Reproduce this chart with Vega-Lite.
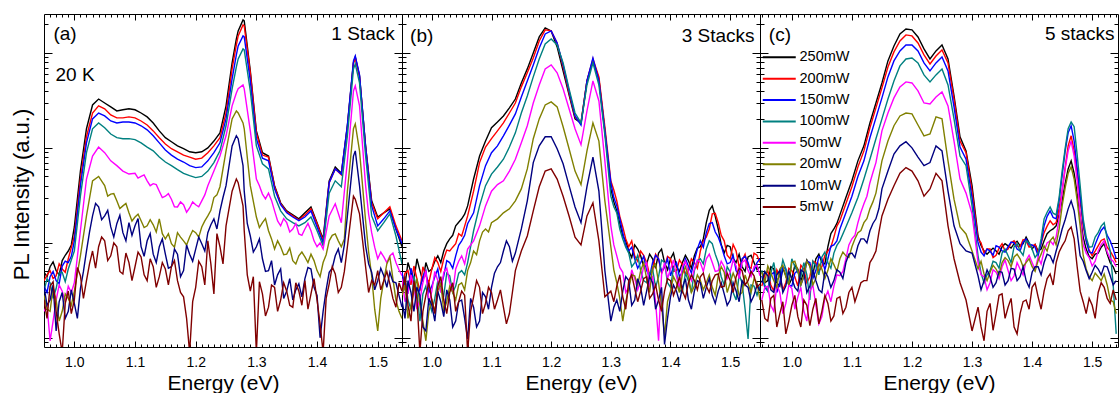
{
"$schema": "https://vega.github.io/schema/vega-lite/v6.json",
"padding": {"left": 10, "top": 13, "right": 0, "bottom": 0},
"background": "white",
"bounds": "flush",
"spacing": 0,
"config": {"font": "Liberation Sans", "view": {"stroke": null},
 "axis": {"grid": false, "domainColor": "#000", "domainWidth": 1, "tickColor": "#000", "tickWidth": 1, "labelColor": "#000", "labelFontSize": 14, "titleColor": "#000", "titleFontSize": 21, "titleFontWeight": "normal", "labelFont": "Liberation Sans", "titleFont": "Liberation Sans"},
 "legend": {"labelFont": "Liberation Sans", "labelColor": "#000"},
 "text": {"font": "Liberation Sans", "color": "#000"}},
"datasets": {"d": [
{"p":"a","e":0.95,"250":4.9,"200":4.0,"150":3.5,"100":3.1,"50":1.9,"20":2.8,"10":3.5,"5":2.5},
{"p":"a","e":0.96,"250":5.6,"200":5.1,"150":4.4,"100":3.8,"50":0.93,"20":1.9,"10":2.5,"5":3.5},
{"p":"a","e":0.97,"250":5.1,"200":4.5,"150":4.0,"100":3.3,"50":2.5,"20":2.5,"10":1.18,"5":1.9},
{"p":"a","e":0.98,"250":6.5,"200":5.3,"150":5.7,"100":4.9,"50":3.1,"20":1.9,"10":3.0,"5":0.7},
{"p":"a","e":0.99,"250":8.2,"200":6.8,"150":6.2,"100":5.3,"50":3.5,"20":2.6,"10":1.9,"5":3.1},
{"p":"a","e":1.00,"250":14.7,"200":11.8,"150":10.5,"100":8.2,"50":3.8,"20":3.1,"10":2.3,"5":2.5},
{"p":"a","e":1.01,"250":57,"200":47,"150":40,"100":31,"50":13.4,"20":7.3,"10":3.3,"5":4.5},
{"p":"a","e":1.02,"250":159,"200":131,"150":113,"100":89,"50":47,"20":19.2,"10":8.2,"5":4.0},
{"p":"a","e":1.03,"250":283,"200":233,"150":202,"100":159,"50":82,"20":45,"10":19.2,"5":8.2},
{"p":"a","e":1.04,"250":327,"200":277,"150":233,"100":183,"50":102,"20":50,"10":23.9,"5":9.1},
{"p":"a","e":1.05,"250":297,"200":258,"150":217,"100":163,"50":89,"20":40,"10":19.2,"5":10.5},
{"p":"a","e":1.06,"250":270,"200":222,"150":192,"100":140,"50":73,"20":32.6,"10":14.7,"5":7.3},
{"p":"a","e":1.07,"250":245,"200":207,"150":183,"100":128,"50":65,"20":27.7,"10":15.9,"5":9.1},
{"p":"a","e":1.08,"250":252,"200":207,"150":187,"100":125,"50":57,"20":24.5,"10":12.8,"5":4.7},
{"p":"a","e":1.09,"250":258,"200":212,"150":187,"100":125,"50":53,"20":20.7,"10":16.3,"5":6.2},
{"p":"a","e":1.10,"250":252,"200":207,"150":183,"100":122,"50":54,"20":18.7,"10":15.1,"5":5.6},
{"p":"a","e":1.11,"250":233,"200":192,"150":171,"100":113,"50":50,"20":17.1,"10":9.1,"5":7.1},
{"p":"a","e":1.12,"250":212,"200":174,"150":155,"100":102,"50":45,"20":15.1,"10":10.5,"5":4.0},
{"p":"a","e":1.13,"250":183,"200":151,"150":134,"100":93,"50":42,"20":15.5,"10":7.6,"5":5.6},
{"p":"a","e":1.14,"250":151,"200":128,"150":113,"100":80,"50":35,"20":17.9,"10":9.1,"5":4.4},
{"p":"a","e":1.15,"250":128,"200":110,"150":95,"100":71,"50":31,"20":11.0,"10":7.6,"5":5.3},
{"p":"a","e":1.16,"250":116,"200":98,"150":84,"100":65,"50":28.8,"20":9.8,"10":5.6,"5":5.6},
{"p":"a","e":1.17,"250":105,"200":91,"150":76,"100":59,"50":23.9,"20":12.8,"10":7.6,"5":4.0},
{"p":"a","e":1.18,"250":98,"200":84,"150":71,"100":54,"50":25.2,"20":10.5,"10":5.1,"5":2.7},
{"p":"a","e":1.19,"250":91,"200":80,"150":65,"100":51,"50":23.3,"20":11.5,"10":7.6,"5":0.7},
{"p":"a","e":1.20,"250":89,"200":76,"150":62,"100":48.6,"50":25.2,"20":12.8,"10":8.6,"5":3.4},
{"p":"a","e":1.21,"250":91,"200":78,"150":63,"100":50,"50":27.7,"20":14.7,"10":9.8,"5":5.6},
{"p":"a","e":1.22,"250":100,"200":89,"150":73,"100":57,"50":40,"20":19.2,"10":12.8,"5":10.5},
{"p":"a","e":1.23,"250":118,"200":105,"150":89,"100":70,"50":57,"20":30,"10":17.9,"5":2.9},
{"p":"a","e":1.24,"250":144,"200":128,"150":113,"100":93,"50":82,"20":39,"10":21.7,"5":9.1},
{"p":"a","e":1.25,"250":277,"200":233,"150":202,"100":171,"50":134,"20":93,"10":40,"5":15.1},
{"p":"a","e":1.26,"250":785,"200":679,"150":533,"100":419,"50":277,"20":202,"10":105,"5":35},
{"p":"a","e":1.267,"250":1404,"200":1214,"150":953,"100":712,"50":379,"20":245,"10":134,"5":47},
{"p":"a","e":1.27,"250":1706,"200":1510,"150":1185,"100":864,"50":419,"20":233,"10":125,"5":43},
{"p":"a","e":1.278,"250":2226,"200":1970,"150":1510,"100":1102,"50":460,"20":183,"10":65,"5":24.5},
{"p":"a","e":1.28,"250":2173,"200":1923,"150":1474,"100":1076,"50":419,"20":159,"10":35,"5":13.4},
{"p":"a","e":1.29,"250":647,"200":617,"150":507,"100":398,"50":151,"20":40,"10":11.8,"5":3.1},
{"p":"a","e":1.30,"250":151,"200":144,"150":125,"100":105,"50":47,"20":18.7,"10":9.1,"5":0.7},
{"p":"a","e":1.31,"250":89,"200":84,"150":78,"100":68,"50":32.6,"20":16.3,"10":6.8,"5":2.9},
{"p":"a","e":1.32,"250":82,"200":80,"150":73,"100":60,"50":33.4,"20":13.4,"10":5.1,"5":2.1},
{"p":"a","e":1.33,"250":40,"200":39,"150":37,"100":31,"50":21.7,"20":8.6,"10":3.6,"5":3.4},
{"p":"a","e":1.34,"250":26.4,"200":25.8,"150":25.2,"100":21.7,"50":15.1,"20":9.1,"10":5.3,"5":2.5},
{"p":"a","e":1.35,"250":21.7,"200":21.2,"150":20.7,"100":17.9,"50":16.3,"20":7.6,"10":3.1,"5":3.1},
{"p":"a","e":1.36,"250":19.7,"200":19.2,"150":18.7,"100":16.3,"50":14.0,"20":6.5,"10":2.5,"5":2.1},
{"p":"a","e":1.37,"250":17.9,"200":17.4,"150":17.1,"100":15.1,"50":12.4,"20":7.3,"10":3.7,"5":3.1},
{"p":"a","e":1.38,"250":20.7,"200":19.7,"150":18.7,"100":16.3,"50":14.0,"20":7.1,"10":4.2,"5":4.0},
{"p":"a","e":1.39,"250":23.9,"200":22.8,"150":21.7,"100":18.7,"50":13.4,"20":7.6,"10":5.3,"5":2.9},
{"p":"a","e":1.40,"250":16.3,"200":15.9,"150":14.7,"100":13.4,"50":9.1,"20":5.1,"10":2.8,"5":2.5},
{"p":"a","e":1.41,"250":11.0,"200":10.5,"150":10.0,"100":9.3,"50":8.6,"20":6.2,"10":1.9,"5":0.7},
{"p":"a","e":1.42,"250":45,"200":43,"150":43,"100":33.4,"50":19.2,"20":10.5,"10":4.9,"5":3.7},
{"p":"a","e":1.43,"250":63,"200":60,"150":60,"100":45,"50":25.8,"20":12.4,"10":7.3,"5":4.7},
{"p":"a","e":1.44,"250":54,"200":52,"150":53,"100":39,"50":16.3,"20":9.1,"10":6.2,"5":3.4},
{"p":"a","e":1.45,"250":171,"200":167,"150":174,"100":134,"50":73,"20":35,"10":19.2,"5":9.1},
{"p":"a","e":1.46,"250":785,"200":785,"150":824,"100":679,"50":398,"20":159,"10":82,"5":31},
{"p":"a","e":1.463,"250":907,"200":885,"150":929,"100":765,"50":450,"20":179,"10":93,"5":28.8},
{"p":"a","e":1.47,"250":573,"200":559,"150":587,"100":483,"50":277,"20":93,"10":40,"5":20.2},
{"p":"a","e":1.48,"250":105,"200":102,"150":102,"100":82,"50":40,"20":17.1,"10":9.3,"5":5.6},
{"p":"a","e":1.49,"250":27.7,"200":26.4,"150":24.5,"100":19.2,"50":12.8,"20":4.5,"10":4.9,"5":4.0},
{"p":"a","e":1.50,"250":18.7,"200":17.9,"150":15.1,"100":13.4,"50":6.8,"20":1.18,"10":4.0,"5":5.1},
{"p":"a","e":1.51,"250":20.7,"200":20.7,"150":17.9,"100":16.3,"50":7.1,"20":4.0,"10":4.5,"5":4.0},
{"p":"a","e":1.52,"250":22.8,"200":23.9,"150":21.7,"100":20.2,"50":7.3,"20":7.1,"10":4.9,"5":3.7},
{"p":"a","e":1.53,"250":14.0,"200":15.1,"150":14.0,"100":11.8,"50":6.2,"20":2.5,"10":3.8,"5":2.1},
{"p":"a","e":1.54,"250":9.1,"200":10.5,"150":9.8,"100":6.0,"50":4.5,"20":1.6,"10":2.1,"5":3.1},
{"p":"a","e":0.955,"250":4.4,"200":4.6,"150":3.0,"100":4.2,"50":2.2,"20":2.0,"10":2.2,"5":1.6},
{"p":"a","e":0.965,"250":6.3,"200":4.2,"150":5.0,"100":2.6,"50":1.5,"20":3.4,"10":3.6,"5":3.9},
{"p":"a","e":0.975,"250":4.6,"200":6.0,"150":3.7,"100":4.8,"50":3.6,"20":1.5,"10":2.4,"5":1.1},
{"p":"a","e":0.985,"250":7.4,"200":4.9,"150":6.4,"100":3.9,"50":2.4,"20":2.9,"10":1.6,"5":2.3},
{"p":"a","e":0.995,"250":9.5,"200":8.9,"150":7.2,"100":6.6,"50":3.0,"20":2.2,"10":3.2,"5":1.8},
{"p":"a","e":1.005,"10":1.6,"5":5.5},
{"p":"a","e":1.015,"10":5.0,"5":2.6},
{"p":"a","e":1.025,"10":13,"5":6.0},
{"p":"a","e":1.035,"10":26,"5":5.4},
{"p":"a","e":1.045,"10":17.5,"5":11.5},
{"p":"a","e":1.055,"20":31,"10":22,"5":6.5},
{"p":"a","e":1.065,"20":33,"10":11.5,"5":10},
{"p":"a","e":1.075,"20":23,"10":19.5,"5":5.0},
{"p":"a","e":1.085,"20":26,"10":10.5,"5":7.8},
{"p":"a","e":1.095,"20":17,"10":12,"5":4.0},
{"p":"a","e":1.105,"50":48,"20":20,"10":18,"5":8.0},
{"p":"a","e":1.115,"50":52,"20":14.5,"10":7.2,"5":4.6},
{"p":"a","e":1.125,"50":40,"20":17.5,"10":12.5,"5":6.8},
{"p":"a","e":1.135,"50":41,"20":13,"10":6.2,"5":3.4},
{"p":"a","e":1.145,"50":30,"20":12.5,"10":11,"5":6.2},
{"p":"a","e":1.155,"50":33,"20":12.5,"10":5.4,"5":3.6},
{"p":"a","e":1.165,"50":24,"20":9.0,"10":8.6,"5":6.5},
{"p":"a","e":1.175,"50":27,"20":11.5,"10":4.4,"5":3.0},
{"p":"a","e":1.185,"50":21,"20":9.5,"10":9.5,"5":1.6},
{"p":"a","e":1.195,"50":27,"20":13.5,"10":6.4,"5":2.4},
{"p":"a","e":1.205,"50":24,"20":11.5,"10":11.5,"5":6.4},
{"p":"a","e":1.215,"50":32,"20":17,"10":8.2,"5":3.6},
{"p":"a","e":1.225,"20":22,"10":15.5,"5":6.0},
{"p":"a","e":1.235,"20":32,"10":14,"5":12.5},
{"p":"a","e":1.245,"10":30,"5":6.0},
{"p":"a","e":1.285,"10":16,"5":4.6},
{"p":"a","e":1.295,"10":8.0,"5":4.4},
{"p":"a","e":1.305,"50":40,"20":14.5,"10":11,"5":3.9},
{"p":"a","e":1.315,"50":29,"20":18,"10":5.0,"5":1.7},
{"p":"a","e":1.325,"50":28,"20":11,"10":6.5,"5":3.6},
{"p":"a","e":1.335,"50":17,"20":10.5,"10":4.6,"5":1.9},
{"p":"a","e":1.345,"50":18,"20":7.5,"10":2.6,"5":3.8},
{"p":"a","e":1.355,"50":13,"20":8.8,"10":4.2,"5":2.2},
{"p":"a","e":1.365,"50":16,"20":6.0,"10":3.2,"5":3.8},
{"p":"a","e":1.375,"50":12,"20":8.0,"10":2.7,"5":2.2},
{"p":"a","e":1.385,"50":16,"20":6.2,"10":5.5,"5":2.0},
{"p":"a","e":1.395,"50":10.5,"20":6.5,"10":3.4,"5":4.2},
{"p":"a","e":1.405,"50":10,"20":4.4,"10":1.0,"5":1.4},
{"p":"a","e":1.415,"50":13,"20":7.5,"10":3.2,"5":2.6},
{"p":"a","e":1.425,"20":12,"10":5.4,"5":5.6},
{"p":"a","e":1.435,"20":10.5,"10":8.6,"5":3.0},
{"p":"a","e":1.445,"20":11,"10":9.5,"5":5.0},
{"p":"a","e":1.485,"50":20,"20":8,"10":6.0,"5":3.0},
{"p":"a","e":1.495,"50":9,"20":2.0,"10":3.2,"5":3.6},
{"p":"a","e":1.505,"50":8,"20":2.6,"10":5.4,"5":3.2},
{"p":"a","e":1.515,"50":6.2,"20":6.0,"10":3.4,"5":5.0},
{"p":"a","e":1.525,"50":7.8,"20":4.2,"10":3.9,"5":2.6},
{"p":"a","e":1.535,"50":5.2,"20":1.9,"10":2.8,"5":3.8},
{"p":"b","e":0.95,"250":4.5,"200":3.5,"150":4.9,"100":3.1,"50":4.2,"20":2.8,"10":2.5,"5":3.1},
{"p":"b","e":0.96,"250":6.2,"200":5.1,"150":3.0,"100":2.5,"50":3.0,"20":1.6,"10":4.0,"5":2.2},
{"p":"b","e":0.97,"250":4.0,"200":5.7,"150":4.0,"100":4.5,"50":3.5,"20":3.1,"10":1.9,"5":4.0},
{"p":"b","e":0.98,"250":5.1,"200":3.1,"150":3.3,"100":1.5,"50":2.5,"20":2.2,"10":2.8,"5":0.7},
{"p":"b","e":0.99,"250":6.2,"200":4.5,"150":5.1,"100":3.5,"50":5.1,"20":0.93,"10":1.18,"5":2.8},
{"p":"b","e":1.00,"250":5.3,"200":5.3,"150":3.5,"100":1.9,"50":3.1,"20":2.5,"10":2.2,"5":2.5},
{"p":"b","e":1.01,"250":7.3,"200":6.2,"150":5.3,"100":4.0,"50":4.0,"20":3.1,"10":3.1,"5":3.5},
{"p":"b","e":1.02,"250":8.2,"200":6.8,"150":4.5,"100":2.8,"50":4.9,"20":1.9,"10":1.67,"5":2.5},
{"p":"b","e":1.03,"250":11.0,"200":8.2,"150":6.2,"100":4.5,"50":3.8,"20":3.5,"10":2.5,"5":3.0},
{"p":"b","e":1.04,"250":15.1,"200":9.8,"150":7.3,"100":3.5,"50":5.3,"20":2.5,"10":1.5,"5":1.9},
{"p":"b","e":1.05,"250":17.9,"200":11.8,"150":10.5,"100":5.1,"50":7.3,"20":3.8,"10":2.5,"5":3.1},
{"p":"b","e":1.06,"250":24.5,"200":19.2,"150":15.9,"100":6.2,"50":8.6,"20":5.1,"10":0.97,"5":0.7},
{"p":"b","e":1.07,"250":47,"200":35,"150":20.7,"100":13.4,"50":10.5,"20":8.2,"10":2.1,"5":2.7},
{"p":"b","e":1.08,"250":82,"200":70,"150":40,"100":24.5,"50":15.1,"20":10.5,"10":1.5,"5":3.4},
{"p":"b","e":1.09,"250":118,"200":102,"150":65,"100":40,"50":24.5,"20":14.0,"10":2.7,"5":2.3},
{"p":"b","e":1.10,"250":163,"200":125,"150":89,"100":53,"50":35,"20":16.3,"10":3.4,"5":3.0},
{"p":"b","e":1.11,"250":187,"200":151,"150":105,"100":63,"50":41,"20":17.9,"10":5.6,"5":2.5},
{"p":"b","e":1.12,"250":217,"200":183,"150":134,"100":76,"50":45,"20":20.7,"10":8.2,"5":2.1},
{"p":"b","e":1.13,"250":264,"200":233,"150":174,"100":102,"50":57,"20":22.8,"10":9.1,"5":1.8},
{"p":"b","e":1.14,"250":327,"200":297,"150":228,"100":144,"50":76,"20":27.7,"10":7.8,"5":5.1},
{"p":"b","e":1.15,"250":483,"200":439,"150":344,"100":233,"50":113,"20":37,"10":14.0,"5":8.2},
{"p":"b","e":1.16,"250":679,"200":617,"150":507,"100":352,"50":171,"20":60,"10":27.7,"5":11.8},
{"p":"b","e":1.17,"250":1000,"200":885,"150":748,"100":559,"50":297,"20":125,"10":70,"5":21.7},
{"p":"b","e":1.18,"250":1474,"200":1337,"150":1129,"100":864,"50":460,"20":202,"10":105,"5":39},
{"p":"b","e":1.19,"250":1833,"200":1748,"150":1585,"100":1243,"50":679,"20":283,"10":131,"5":57},
{"p":"b","e":1.20,"250":1706,"200":1706,"150":1706,"100":1404,"50":748,"20":305,"10":131,"5":60},
{"p":"b","e":1.21,"250":1157,"200":1274,"150":1274,"100":1214,"50":617,"20":270,"10":98,"5":47},
{"p":"b","e":1.22,"250":647,"200":712,"150":748,"100":785,"50":419,"20":167,"10":68,"5":31},
{"p":"b","e":1.23,"250":361,"200":379,"150":398,"100":419,"50":258,"20":98,"10":40,"5":19.2},
{"p":"b","e":1.24,"250":202,"200":212,"150":217,"100":233,"50":159,"20":57,"10":23.9,"5":11.5},
{"p":"b","e":1.25,"250":183,"200":183,"150":174,"100":183,"50":108,"20":41,"10":16.3,"5":9.5},
{"p":"b","e":1.26,"250":507,"200":507,"150":507,"100":460,"50":245,"20":93,"10":39,"5":19.2},
{"p":"b","e":1.27,"250":824,"200":864,"150":885,"100":785,"50":507,"20":183,"10":80,"5":26.4},
{"p":"b","e":1.28,"250":533,"200":559,"150":507,"100":460,"50":312,"20":118,"10":35,"5":10.5},
{"p":"b","e":1.29,"250":151,"200":167,"150":151,"100":137,"50":73,"20":27.7,"10":5.1,"5":2.7},
{"p":"b","e":1.30,"250":37,"200":45,"150":43,"100":31,"50":15.1,"20":9.1,"10":1.5,"5":3.1},
{"p":"b","e":1.31,"250":21.7,"200":27.7,"150":24.5,"100":20.7,"50":7.3,"20":3.8,"10":2.5,"5":3.5},
{"p":"b","e":1.32,"250":11.8,"200":14.7,"150":12.8,"100":11.0,"50":4.9,"20":1.5,"10":3.1,"5":2.7},
{"p":"b","e":1.33,"250":8.2,"200":9.1,"150":8.2,"100":7.8,"50":3.4,"20":3.3,"10":4.0,"5":4.0},
{"p":"b","e":1.34,"250":9.5,"200":7.3,"150":6.8,"100":6.2,"50":4.2,"20":4.5,"10":2.5,"5":3.3},
{"p":"b","e":1.35,"250":7.3,"200":8.2,"150":6.2,"100":5.1,"50":4.0,"20":5.1,"10":3.4,"5":3.1},
{"p":"b","e":1.36,"250":6.0,"200":6.2,"150":5.1,"100":3.8,"50":6.2,"20":4.2,"10":3.1,"5":4.4},
{"p":"b","e":1.37,"250":6.8,"200":5.1,"150":6.2,"100":5.3,"50":4.5,"20":5.6,"10":3.8,"5":2.9},
{"p":"b","e":1.38,"250":7.8,"200":6.8,"150":6.8,"100":4.4,"50":0.93,"20":3.8,"10":2.5,"5":2.5},
{"p":"b","e":1.39,"250":6.2,"200":5.6,"150":5.6,"100":6.2,"50":6.2,"20":1.05,"10":0.85,"5":3.1},
{"p":"b","e":1.40,"250":6.8,"200":6.8,"150":4.5,"100":3.4,"50":5.3,"20":3.1,"10":2.7,"5":4.0},
{"p":"b","e":1.41,"250":5.6,"200":5.1,"150":6.2,"100":4.9,"50":4.4,"20":3.8,"10":3.1,"5":3.4},
{"p":"b","e":1.42,"250":6.2,"200":5.9,"150":4.9,"100":3.0,"50":5.6,"20":4.7,"10":3.4,"5":3.1},
{"p":"b","e":1.43,"250":6.5,"200":5.1,"150":5.7,"100":4.0,"50":4.9,"20":4.4,"10":2.5,"5":3.8},
{"p":"b","e":1.44,"250":7.3,"200":6.2,"150":6.5,"100":5.1,"50":5.3,"20":3.5,"10":3.1,"5":4.0},
{"p":"b","e":1.45,"250":9.1,"200":8.2,"150":10.5,"100":6.8,"50":6.2,"20":4.0,"10":3.8,"5":4.4},
{"p":"b","e":1.46,"250":16.3,"200":11.5,"150":12.8,"100":8.6,"50":6.8,"20":3.8,"10":3.4,"5":3.5},
{"p":"b","e":1.47,"250":24.5,"200":20.2,"150":16.3,"100":9.8,"50":6.2,"20":3.4,"10":2.8,"5":4.0},
{"p":"b","e":1.48,"250":14.0,"200":16.3,"150":11.5,"100":6.2,"50":5.1,"20":4.5,"10":3.1,"5":4.7},
{"p":"b","e":1.49,"250":7.8,"200":10.5,"150":7.3,"100":3.6,"50":5.6,"20":4.9,"10":2.9,"5":3.5},
{"p":"b","e":1.50,"250":9.1,"200":6.8,"150":6.2,"100":4.9,"50":4.9,"20":3.8,"10":2.5,"5":4.0},
{"p":"b","e":1.51,"250":6.2,"200":8.2,"150":5.1,"100":2.5,"50":5.7,"20":4.0,"10":3.1,"5":4.4},
{"p":"b","e":1.52,"250":5.6,"200":6.5,"150":6.8,"100":3.8,"50":6.2,"20":3.0,"10":4.0,"5":5.1},
{"p":"b","e":1.53,"250":7.1,"200":5.6,"150":6.2,"100":0.97,"50":5.1,"20":3.7,"10":3.4,"5":4.0},
{"p":"b","e":1.54,"250":6.2,"200":7.8,"150":5.1,"100":3.5,"50":5.6,"20":4.2,"10":2.8,"5":4.5},
{"p":"b","e":1.55,"250":5.6,"200":6.2,"150":6.8,"100":3.5,"50":4.5,"20":2.5,"10":3.1,"5":3.7},
{"p":"b","e":0.955,"250":3.6,"200":4.8,"150":3.2,"100":4.4,"50":2.4,"20":3.6,"10":1.6,"5":4.4},
{"p":"b","e":0.965,"250":4.9,"200":3.6,"150":5.4,"100":2.0,"50":4.6,"20":2.2,"10":3.0,"5":1.5},
{"p":"b","e":0.975,"250":6.8,"200":4.2,"150":2.6,"100":3.0,"50":2.0,"20":4.2,"10":3.4,"5":2.6},
{"p":"b","e":0.985,"250":3.9,"200":5.6,"150":4.4,"100":2.9,"50":3.8,"20":1.5,"10":1.3,"5":1.9},
{"p":"b","e":0.995,"250":5.0,"200":3.8,"150":3.0,"100":2.4,"50":2.3,"20":1.9,"10":2.6,"5":3.8},
{"p":"b","e":1.005,"250":6.4,"200":7.0,"150":4.4,"100":2.6,"50":5.0,"20":1.9,"10":1.5,"5":1.8},
{"p":"b","e":1.015,"250":6.2,"200":5.0,"150":3.4,"100":3.1,"50":3.0,"20":3.8,"10":2.4,"5":4.4},
{"p":"b","e":1.025,"250":9.8,"200":8.4,"150":6.5,"100":4.8,"50":5.4,"20":2.4,"10":3.2,"5":1.8},
{"p":"b","e":1.035,"250":12,"200":9.0,"150":5.4,"100":3.0,"50":3.0,"20":3.0,"10":1.3,"5":3.8},
{"p":"b","e":1.045,"250":16.5,"200":12.5,"150":9.4,"100":4.8,"50":6.4,"20":3.6,"10":2.4,"5":2.4},
{"p":"b","e":1.055,"250":20,"200":15,"150":12,"100":4.6,"50":6.0,"20":3.2,"10":1.6,"5":2.8},
{"p":"b","e":1.065,"20":6.2,"10":2.6,"5":1.9},
{"p":"b","e":1.075,"20":7.5,"10":1.3,"5":4.0},
{"p":"b","e":1.085,"20":13,"10":3.0,"5":1.8},
{"p":"b","e":1.095,"20":13,"10":2.0,"5":3.4},
{"p":"b","e":1.105,"10":4.8,"5":2.0},
{"p":"b","e":1.115,"10":6.2,"5":3.2},
{"p":"b","e":1.125,"10":10.5,"5":1.4},
{"p":"b","e":1.135,"10":6.4,"5":3.0},
{"p":"b","e":1.145,"10":10.5,"5":6.5},
{"p":"b","e":1.305,"250":27,"200":36,"150":30,"100":24,"50":9.5,"20":5.2,"10":2.1,"5":2.4},
{"p":"b","e":1.315,"250":16,"200":19,"150":18,"100":14,"50":5.5,"20":2.6,"10":1.9,"5":4.6},
{"p":"b","e":1.325,"250":10.5,"200":11,"150":9.4,"100":9.0,"50":3.0,"20":2.4,"10":4.4,"5":2.0},
{"p":"b","e":1.335,"250":7.0,"200":10.5,"150":9.0,"100":5.6,"50":5.2,"20":4.6,"10":2.2,"5":4.6},
{"p":"b","e":1.345,"250":8.6,"200":6.4,"150":5.4,"100":7.4,"50":3.2,"20":3.6,"10":4.2,"5":2.4},
{"p":"b","e":1.355,"250":5.6,"200":7.4,"150":7.2,"100":4.0,"50":5.6,"20":6.2,"10":2.2,"5":4.2},
{"p":"b","e":1.365,"250":7.6,"200":4.6,"150":4.4,"100":4.8,"50":3.4,"20":3.0,"10":4.4,"5":2.6},
{"p":"b","e":1.375,"250":5.4,"200":7.6,"150":7.4,"100":3.4,"50":2.4,"20":6.0,"10":2.0,"5":3.6},
{"p":"b","e":1.385,"250":8.6,"200":4.8,"150":5.0,"100":6.6,"50":4.6,"20":2.2,"10":3.4,"5":1.9},
{"p":"b","e":1.395,"250":5.2,"200":7.2,"150":6.8,"100":3.8,"50":4.2,"20":2.4,"10":1.6,"5":4.2},
{"p":"b","e":1.405,"250":7.8,"200":5.0,"150":5.6,"100":5.4,"50":6.6,"20":4.4,"10":3.6,"5":2.8},
{"p":"b","e":1.415,"250":5.0,"200":6.6,"150":4.4,"100":3.2,"50":3.4,"20":3.0,"10":2.4,"5":4.4},
{"p":"b","e":1.425,"250":7.4,"200":4.6,"150":6.8,"100":4.8,"50":6.4,"20":5.6,"10":4.2,"5":2.6},
{"p":"b","e":1.435,"250":5.4,"200":6.8,"150":4.8,"100":3.0,"50":4.0,"20":3.0,"10":2.0,"5":4.6},
{"p":"b","e":1.445,"250":8.8,"200":5.4,"150":8.6,"100":6.4,"50":6.6,"20":4.6,"10":4.0,"5":3.2},
{"p":"b","e":1.455,"250":11,"200":10.5,"150":9.0,"100":6.0,"50":5.0,"20":3.2,"10":2.6,"5":4.8},
{"p":"b","e":1.465,"250":22,"200":14,"150":16,"100":10.5,"50":7.6,"20":4.6,"10":4.2,"5":3.0},
{"p":"b","e":1.475,"250":19,"200":20.5,"150":13,"100":7.6,"50":5.0,"20":2.8,"10":2.3,"5":4.6},
{"p":"b","e":1.485,"250":9.6,"200":12,"150":9.4,"100":4.4,"50":6.4,"20":5.6,"10":3.8,"5":3.4},
{"p":"b","e":1.495,"250":9.4,"200":7.4,"150":6.0,"100":5.6,"50":4.2,"20":3.0,"10":2.2,"5":4.8},
{"p":"b","e":1.505,"250":6.8,"200":9.6,"150":7.4,"100":3.0,"50":6.6,"20":4.8,"10":3.8,"5":3.0},
{"p":"b","e":1.515,"250":7.6,"200":5.6,"150":4.6,"100":4.6,"50":4.2,"20":2.8,"10":2.4,"5":5.4},
{"p":"b","e":1.525,"250":5.0,"200":7.6,"150":7.2,"100":2.0,"50":6.6,"20":4.6,"10":3.6,"5":3.6},
{"p":"b","e":1.535,"250":7.4,"200":5.4,"150":4.8,"100":3.6,"50":4.4,"20":3.0,"10":2.4,"5":5.0},
{"p":"b","e":1.545,"250":5.2,"200":7.4,"150":6.2,"100":2.8,"50":5.8,"20":3.8,"10":3.6,"5":3.4},
{"p":"c","e":0.95,"250":5.1,"200":3.5,"150":4.5,"100":5.1,"50":2.5,"20":4.9,"10":3.8,"5":2.5},
{"p":"c","e":0.96,"250":4.0,"200":5.1,"150":3.1,"100":3.1,"50":3.5,"20":5.7,"10":4.5,"5":1.5},
{"p":"c","e":0.97,"250":5.3,"200":3.1,"150":4.9,"100":6.2,"50":1.9,"20":4.0,"10":3.0,"5":2.8},
{"p":"c","e":0.98,"250":3.5,"200":4.5,"150":3.8,"100":4.5,"50":3.0,"20":5.3,"10":5.1,"5":1.8},
{"p":"c","e":0.99,"250":4.5,"200":3.8,"150":5.3,"100":5.3,"50":2.3,"20":4.4,"10":3.5,"5":1.1},
{"p":"c","e":1.00,"250":4.2,"200":5.1,"150":3.5,"100":6.8,"50":3.3,"20":6.2,"10":4.2,"5":2.2},
{"p":"c","e":1.01,"250":5.3,"200":3.5,"150":5.1,"100":4.9,"50":2.7,"20":5.1,"10":3.1,"5":1.67},
{"p":"c","e":1.02,"250":4.9,"200":5.3,"150":4.4,"100":6.2,"50":1.9,"20":4.5,"10":4.9,"5":2.5},
{"p":"c","e":1.03,"250":5.7,"200":4.4,"150":6.2,"100":2.5,"50":3.1,"20":5.7,"10":3.5,"5":1.34},
{"p":"c","e":1.04,"250":6.8,"200":6.2,"150":5.1,"100":5.7,"50":2.2,"20":4.2,"10":4.0,"5":2.6},
{"p":"c","e":1.05,"250":6.2,"200":5.6,"150":6.8,"100":7.1,"50":1.67,"20":5.3,"10":3.0,"5":1.9},
{"p":"c","e":1.06,"250":9.1,"200":8.2,"150":6.8,"100":6.2,"50":3.1,"20":5.1,"10":4.4,"5":2.3},
{"p":"c","e":1.07,"250":14.0,"200":11.5,"150":9.5,"100":7.8,"50":3.5,"20":5.9,"10":4.0,"5":1.7},
{"p":"c","e":1.08,"250":19.7,"200":17.1,"150":14.0,"100":10.5,"50":4.5,"20":6.8,"10":4.9,"5":2.7},
{"p":"c","e":1.09,"250":30,"200":25.8,"150":20.7,"100":14.7,"50":6.8,"20":7.3,"10":6.2,"5":2.1},
{"p":"c","e":1.10,"250":45,"200":39,"150":31,"100":20.7,"50":11.0,"20":9.1,"10":7.8,"5":3.4},
{"p":"c","e":1.11,"250":73,"200":63,"150":50,"100":30,"50":16.3,"20":12.8,"10":9.3,"5":3.0},
{"p":"c","e":1.12,"250":105,"200":93,"150":73,"100":47,"50":25.8,"20":16.3,"10":11.0,"5":4.0},
{"p":"c","e":1.13,"250":183,"200":163,"150":128,"100":76,"50":43,"20":22.8,"10":13.4,"5":6.2},
{"p":"c","e":1.14,"250":297,"200":264,"150":207,"100":125,"50":70,"20":33.4,"10":17.9,"5":8.2},
{"p":"c","e":1.15,"250":483,"200":429,"150":336,"100":202,"50":151,"20":73,"10":37,"5":19.2},
{"p":"c","e":1.16,"250":824,"200":712,"150":559,"100":327,"50":233,"20":118,"10":57,"5":28.8},
{"p":"c","e":1.17,"250":1185,"200":1025,"150":824,"100":507,"50":336,"20":171,"10":86,"5":40},
{"p":"c","e":1.18,"250":1585,"200":1337,"150":1050,"100":730,"50":439,"20":217,"10":105,"5":54},
{"p":"c","e":1.19,"250":1785,"200":1547,"150":1214,"100":864,"50":495,"20":233,"10":116,"5":62},
{"p":"c","e":1.20,"250":1748,"200":1510,"150":1214,"100":885,"50":483,"20":228,"10":100,"5":57},
{"p":"c","e":1.21,"250":1474,"200":1274,"150":1050,"100":785,"50":398,"20":174,"10":80,"5":45},
{"p":"c","e":1.22,"250":1102,"200":953,"150":785,"100":587,"50":297,"20":134,"10":65,"5":31},
{"p":"c","e":1.23,"250":864,"200":765,"150":647,"100":495,"50":290,"20":140,"10":70,"5":37},
{"p":"c","e":1.24,"250":1050,"200":929,"150":785,"100":587,"50":344,"20":212,"10":105,"5":54},
{"p":"c","e":1.25,"250":1214,"200":1076,"150":907,"100":679,"50":388,"20":202,"10":93,"5":45},
{"p":"c","e":1.26,"250":864,"200":785,"150":647,"100":460,"50":277,"20":73,"10":35,"5":15.1},
{"p":"c","e":1.27,"250":352,"200":327,"150":270,"100":202,"50":118,"20":28.8,"10":15.1,"5":6.8},
{"p":"c","e":1.28,"250":131,"200":118,"150":102,"100":82,"50":47,"20":14.7,"10":9.8,"5":3.8},
{"p":"c","e":1.29,"250":93,"200":89,"150":76,"100":65,"50":33.4,"20":12.4,"10":8.2,"5":2.5},
{"p":"c","e":1.30,"250":40,"200":35,"150":30,"100":24.5,"50":20.2,"20":8.2,"10":7.8,"5":1.18},
{"p":"c","e":1.31,"250":11.8,"200":11.0,"150":10.0,"100":7.3,"50":6.2,"20":5.3,"10":4.5,"5":2.1},
{"p":"c","e":1.32,"250":8.2,"200":7.8,"150":7.3,"100":3.8,"50":4.4,"20":4.7,"10":4.0,"5":0.93},
{"p":"c","e":1.33,"250":8.2,"200":8.6,"150":8.2,"100":5.1,"50":3.8,"20":4.9,"10":4.4,"5":2.3},
{"p":"c","e":1.34,"250":8.2,"200":7.4,"150":9.3,"100":6.2,"50":4.9,"20":5.3,"10":3.8,"5":1.8},
{"p":"c","e":1.35,"250":9.1,"200":9.8,"150":8.2,"100":7.8,"50":5.6,"20":6.2,"10":4.9,"5":2.9},
{"p":"c","e":1.36,"250":9.3,"200":8.6,"150":9.1,"100":7.3,"50":5.1,"20":6.5,"10":4.0,"5":2.1},
{"p":"c","e":1.37,"250":9.8,"200":10.5,"150":10.0,"100":9.1,"50":4.5,"20":7.1,"10":5.3,"5":1.3},
{"p":"c","e":1.38,"250":9.3,"200":9.1,"150":8.2,"100":8.2,"50":5.3,"20":6.8,"10":4.4,"5":1.8},
{"p":"c","e":1.39,"250":11.5,"200":10.5,"150":11.0,"100":10.5,"50":6.5,"20":6.2,"10":4.0,"5":2.5},
{"p":"c","e":1.40,"250":8.6,"200":9.3,"150":9.5,"100":8.6,"50":6.2,"20":5.6,"10":4.9,"5":3.4},
{"p":"c","e":1.41,"250":8.2,"200":7.8,"150":7.3,"100":7.8,"50":7.1,"20":6.5,"10":5.6,"5":2.7},
{"p":"c","e":1.42,"250":10.5,"200":12.8,"150":15.1,"100":17.9,"50":8.2,"20":9.3,"10":6.2,"5":3.1},
{"p":"c","e":1.43,"250":13.4,"200":17.1,"150":21.7,"100":23.9,"50":10.5,"20":10.5,"10":7.3,"5":4.7},
{"p":"c","e":1.44,"250":15.1,"200":16.3,"150":17.9,"100":19.7,"50":11.5,"20":9.5,"10":8.2,"5":6.2},
{"p":"c","e":1.45,"250":27.7,"200":35,"150":51,"100":57,"50":35,"20":24.5,"10":14.0,"5":9.3},
{"p":"c","e":1.46,"250":60,"200":105,"150":144,"100":159,"50":93,"20":54,"10":22.8,"5":13.4},
{"p":"c","e":1.465,"250":73,"200":134,"150":171,"100":187,"50":118,"20":63,"10":27.7,"5":14.7},
{"p":"c","e":1.47,"250":54,"200":93,"150":118,"100":167,"50":82,"20":47,"10":21.7,"5":11.0},
{"p":"c","e":1.48,"250":19.2,"200":27.7,"150":31,"100":40,"50":19.2,"20":15.1,"10":7.3,"5":3.1},
{"p":"c","e":1.49,"250":8.6,"200":10.5,"150":10.5,"100":11.5,"50":7.8,"20":5.3,"10":5.1,"5":1.8},
{"p":"c","e":1.50,"250":6.8,"200":7.3,"150":7.8,"100":9.1,"50":5.7,"20":4.0,"10":4.9,"5":2.2},
{"p":"c","e":1.51,"250":7.8,"200":9.3,"150":11.5,"100":12.8,"50":8.2,"20":4.4,"10":5.3,"5":3.0},
{"p":"c","e":1.52,"250":9.8,"200":11.0,"150":14.7,"100":16.3,"50":10.5,"20":4.7,"10":5.7,"5":3.4},
{"p":"c","e":1.53,"250":6.2,"200":8.2,"150":10.5,"100":8.2,"50":6.8,"20":2.5,"10":4.5,"5":2.3},
{"p":"c","e":1.54,"250":4.7,"200":6.2,"150":6.8,"100":1.1,"50":5.6,"20":1.8,"10":4.0,"5":2.5},
{"p":"c","e":0.955,"250":3.8,"200":4.6,"150":3.4,"100":3.6,"50":3.4,"20":3.8,"10":5.0,"5":1.6},
{"p":"c","e":0.965,"250":5.6,"200":3.6,"150":4.6,"100":4.8,"50":2.2,"20":4.8,"10":3.2,"5":2.6},
{"p":"c","e":0.975,"250":3.8,"200":5.2,"150":3.0,"100":4.0,"50":3.6,"20":3.4,"10":4.6,"5":1.3},
{"p":"c","e":0.985,"250":5.4,"200":3.2,"150":5.6,"100":6.6,"50":1.8,"20":5.8,"10":3.0,"5":2.4},
{"p":"c","e":0.995,"250":3.6,"200":5.4,"150":3.6,"100":3.8,"50":3.6,"20":3.6,"10":5.0,"5":1.5},
{"p":"c","e":1.005,"250":5.8,"200":4.4,"150":4.8,"100":5.6,"50":2.0,"20":6.4,"10":3.4,"5":2.8},
{"p":"c","e":1.015,"250":4.0,"200":5.8,"150":3.6,"100":4.4,"50":3.4,"20":3.6,"10":5.2,"5":1.3},
{"p":"c","e":1.025,"250":6.6,"200":3.8,"150":6.4,"100":4.6,"50":1.5,"20":6.4,"10":3.0,"5":2.2},
{"p":"c","e":1.035,"250":4.6,"200":6.4,"150":4.2,"100":6.4,"50":3.6,"20":3.6,"10":5.2,"5":2.0},
{"p":"c","e":1.045,"250":7.6,"200":5.0,"150":7.2,"100":4.6,"50":1.4,"20":6.0,"10":3.2,"5":1.4},
{"p":"c","e":1.055,"250":6.0,"200":7.4,"150":5.2,"100":8.0,"50":2.6,"20":4.2,"10":5.0,"5":2.8},
{"p":"c","e":1.065,"250":12.5,"200":9.0,"150":9.2,"100":5.4,"50":2.4,"20":6.8,"10":3.4,"5":1.5},
{"p":"c","e":1.075,"250":16,"200":15,"150":10.5,"100":9.4,"50":4.6,"20":5.0,"10":5.2,"5":2.6},
{"p":"c","e":1.085,"50":5.0,"20":8.0,"10":4.2,"5":1.8},
{"p":"c","e":1.095,"50":9.5,"20":7.0,"10":7.6,"5":3.0},
{"p":"c","e":1.105,"50":12,"20":11,"10":7.0,"5":2.4},
{"p":"c","e":1.115,"50":21,"20":13.5,"10":11,"5":3.8},
{"p":"c","e":1.125,"50":31,"20":18,"10":10,"5":4.0},
{"p":"c","e":1.135,"50":55,"20":27,"10":16,"5":7.0},
{"p":"c","e":1.145,"10":23,"5":13},
{"p":"c","e":1.315,"250":9.4,"200":10.0,"150":8.0,"100":4.8,"50":4.6,"20":6.4,"10":3.2,"5":1.3},
{"p":"c","e":1.325,"250":7.6,"200":8.6,"150":8.6,"100":4.6,"50":3.2,"20":4.0,"10":5.2,"5":1.9},
{"p":"c","e":1.335,"250":8.8,"200":7.0,"150":7.4,"100":6.4,"50":5.2,"20":5.8,"10":3.4,"5":1.2},
{"p":"c","e":1.345,"250":7.6,"200":8.8,"150":9.0,"100":5.4,"50":4.2,"20":4.6,"10":5.0,"5":2.8},
{"p":"c","e":1.355,"250":9.8,"200":8.2,"150":8.0,"100":8.6,"50":6.6,"20":7.0,"10":3.6,"5":1.6},
{"p":"c","e":1.365,"250":8.8,"200":10.0,"150":10.2,"100":6.2,"50":4.0,"20":5.6,"10":5.4,"5":2.6},
{"p":"c","e":1.375,"250":10.4,"200":9.2,"150":8.6,"100":9.8,"50":6.2,"20":7.6,"10":4.0,"5":1.1},
{"p":"c","e":1.385,"250":9.8,"200":10.8,"150":10.2,"100":7.4,"50":4.6,"20":5.6,"10":5.6,"5":2.4},
{"p":"c","e":1.395,"250":10.0,"200":9.0,"150":9.6,"100":10.0,"50":7.4,"20":6.8,"10":3.4,"5":2.0},
{"p":"c","e":1.405,"250":9.6,"200":9.6,"150":9.0,"100":7.0,"50":5.2,"20":5.0,"10":5.6,"5":3.8},
{"p":"c","e":1.415,"250":8.6,"200":9.8,"150":10.0,"100":11,"50":6.0,"20":7.6,"10":4.6,"5":2.0},
{"p":"c","e":1.425,"250":12.5,"200":15,"150":19,"100":21,"50":10,"20":8.2,"10":7.6,"5":4.2},
{"p":"c","e":1.435,"250":14,"200":15.5,"150":18.5,"100":20.5,"50":9.6,"20":11.5,"10":6.2,"5":3.6},
{"p":"c","e":1.445,"250":20,"200":23,"150":28,"100":30,"50":18,"20":14,"10":10.5,"5":8.0},
{"p":"c","e":1.455,"250":42,"200":62,"150":92,"100":98,"50":60,"20":38,"10":17.5,"5":10.5},
{"p":"c","e":1.475,"250":33,"200":55,"150":62,"100":85,"50":45,"20":28,"10":13,"5":5.6},
{"p":"c","e":1.485,"250":11.5,"200":15,"150":16.5,"100":18,"50":9.6,"20":7.4,"10":6.4,"5":2.4},
{"p":"c","e":1.495,"250":7.2,"200":8.4,"150":8.0,"100":9.0,"50":7.0,"20":4.4,"10":4.2,"5":2.6},
{"p":"c","e":1.505,"250":7.6,"200":8.2,"150":9.6,"100":11.5,"50":6.4,"20":4.8,"10":5.8,"5":1.6},
{"p":"c","e":1.515,"250":9.0,"200":10.6,"150":13.5,"100":15,"50":9.6,"20":4.0,"10":4.6,"5":3.8},
{"p":"c","e":1.525,"250":7.6,"200":9.0,"150":12,"100":11,"50":8.0,"20":3.6,"10":5.6,"5":2.6},
{"p":"c","e":1.535,"250":5.6,"200":7.2,"150":8.6,"100":3.6,"50":6.4,"20":2.4,"10":3.6,"5":3.2}
]},
"hconcat": [
{"width": 358, "height": 333,
 "resolve": {"axis": {"x": "independent", "y": "independent"}},
 "layer": [
  {"data": {"name": "d"},
   "transform": [{"filter": "datum.p == 'a'"}, {"fold": ["250","200","150","100","50","20","10","5"], "as": ["s","v"]}, {"filter": "isValid(datum.v)"}],
   "mark": {"type": "line", "strokeWidth": 1.4, "clip": true},
   "encoding": {
    "x": {"field": "e", "type": "quantitative", "scale": {"domain": [0.95, 1.54], "nice": false, "zero": false},
          "axis": {"orient": "bottom", "values": [1, 1.1, 1.2, 1.3, 1.4, 1.5], "format": ".1f", "ticks": false, "labelPadding": 8, "labelFlush": false, "labelOverlap": false, "title": "Energy (eV)", "titlePadding": 3}},
    "y": {"field": "v", "type": "quantitative", "scale": {"type": "log", "domain": [0.8, 2570], "nice": false},
          "axis": {"orient": "left", "labels": false, "ticks": false, "title": "PL Intensity (a.u.)", "titleFontSize": 22, "titleX": -11, "titleY": 180}},
    "color": {"field": "s", "type": "nominal", "scale": {"domain": ["250","200","150","100","50","20","10","5"], "range": ["#000000","#ff0000","#0000ff","#008080","#ff00ff","#808000","#000080","#800000"]}}
   }},
  {"data": {"values": [{}]}, "mark": {"type": "point", "opacity": 0},
   "encoding": {
    "x": {"datum": 1.2, "type": "quantitative", "scale": {"domain": [0.95, 1.54], "nice": false, "zero": false}, "axis": {"orient": "bottom", "values": [1, 1.1, 1.2, 1.3, 1.4, 1.5], "labels": false, "domain": false, "tickSize": -6, "title": null}},
    "y": {"datum": 100, "type": "quantitative", "scale": {"type": "log", "domain": [0.8, 2570], "nice": false}, "axis": {"orient": "left", "values": [1, 10, 100, 1000], "labels": false, "domain": false, "tickSize": -8, "title": null}}}},
  {"data": {"values": [{}]}, "mark": {"type": "point", "opacity": 0},
   "encoding": {
    "x": {"datum": 1.2, "type": "quantitative", "scale": {"domain": [0.95, 1.54], "nice": false, "zero": false}, "axis": {"orient": "bottom", "values": [0.96,0.97,0.98,0.99,1,1.01,1.02,1.03,1.04,1.05,1.06,1.07,1.08,1.09,1.1,1.11,1.12,1.13,1.14,1.15,1.16,1.17,1.18,1.19,1.2,1.21,1.22,1.23,1.24,1.25,1.26,1.27,1.28,1.29,1.3,1.31,1.32,1.33,1.34,1.35,1.36,1.37,1.38,1.39,1.4,1.41,1.42,1.43,1.44,1.45,1.46,1.47,1.48,1.49,1.5,1.51,1.52,1.53], "labels": false, "domain": false, "tickSize": -3, "title": null}},
    "y": {"datum": 100, "type": "quantitative", "scale": {"type": "log", "domain": [0.8, 2570], "nice": false}, "axis": {"orient": "left", "values": [0.9,2,3,4,5,6,7,8,9,20,30,40,50,60,70,80,90,200,300,400,500,600,700,800,900,2000], "labels": false, "domain": false, "tickSize": -4, "title": null}}}},
  {"data": {"values": [{}]}, "mark": {"type": "point", "opacity": 0},
   "encoding": {
    "x": {"datum": 1.2, "type": "quantitative", "scale": {"domain": [0.95, 1.54], "nice": false, "zero": false}, "axis": {"orient": "top", "values": [1, 1.1, 1.2, 1.3, 1.4, 1.5], "labels": false, "tickSize": -6, "title": null}},
    "y": {"datum": 100, "type": "quantitative", "scale": {"type": "log", "domain": [0.8, 2570], "nice": false}, "axis": {"orient": "right", "values": [1, 10, 100, 1000], "labels": false, "tickSize": -8, "title": null}}}},
  {"data": {"values": [{}]}, "mark": {"type": "point", "opacity": 0},
   "encoding": {
    "x": {"datum": 1.2, "type": "quantitative", "scale": {"domain": [0.95, 1.54], "nice": false, "zero": false}, "axis": {"orient": "top", "values": [0.96,0.97,0.98,0.99,1,1.01,1.02,1.03,1.04,1.05,1.06,1.07,1.08,1.09,1.1,1.11,1.12,1.13,1.14,1.15,1.16,1.17,1.18,1.19,1.2,1.21,1.22,1.23,1.24,1.25,1.26,1.27,1.28,1.29,1.3,1.31,1.32,1.33,1.34,1.35,1.36,1.37,1.38,1.39,1.4,1.41,1.42,1.43,1.44,1.45,1.46,1.47,1.48,1.49,1.5,1.51,1.52,1.53], "labels": false, "domain": false, "tickSize": -3, "title": null}},
    "y": {"datum": 100, "type": "quantitative", "scale": {"type": "log", "domain": [0.8, 2570], "nice": false}, "axis": {"orient": "right", "values": [0.9,2,3,4,5,6,7,8,9,20,30,40,50,60,70,80,90,200,300,400,500,600,700,800,900,2000], "labels": false, "domain": false, "tickSize": -4, "title": null}}}},
  {"data": {"values": [{}]}, "mark": {"type": "text", "text": "(a)", "align": "left", "baseline": "middle", "fontSize": 19},
   "encoding": {"x": {"datum": 0.9655, "type": "quantitative", "scale": {"domain": [0.95, 1.54], "nice": false, "zero": false}, "axis": null},
                "y": {"datum": 1585, "type": "quantitative", "scale": {"type": "log", "domain": [0.8, 2570], "nice": false}, "axis": null}}},
  {"data": {"values": [{}]}, "mark": {"type": "text", "text": "1 Stack", "align": "right", "baseline": "middle", "fontSize": 19},
   "encoding": {"x": {"datum": 1.528, "type": "quantitative", "scale": {"domain": [0.95, 1.54], "nice": false, "zero": false}, "axis": null},
                "y": {"datum": 1585, "type": "quantitative", "scale": {"type": "log", "domain": [0.8, 2570], "nice": false}, "axis": null}}},
  {"data": {"values": [{}]}, "mark": {"type": "text", "text": "20 K", "align": "left", "baseline": "middle", "fontSize": 19},
   "encoding": {"x": {"datum": 0.969, "type": "quantitative", "scale": {"domain": [0.95, 1.54], "nice": false, "zero": false}, "axis": null},
                "y": {"datum": 580, "type": "quantitative", "scale": {"type": "log", "domain": [0.8, 2570], "nice": false}, "axis": null}}}
 ]},
{"width": 358, "height": 333,
 "resolve": {"axis": {"x": "independent", "y": "independent"}},
 "layer": [
  {"data": {"name": "d"},
   "transform": [{"filter": "datum.p == 'b'"}, {"fold": ["250","200","150","100","50","20","10","5"], "as": ["s","v"]}, {"filter": "isValid(datum.v)"}],
   "mark": {"type": "line", "strokeWidth": 1.4, "clip": true},
   "encoding": {
    "x": {"field": "e", "type": "quantitative", "scale": {"domain": [0.95, 1.55], "nice": false, "zero": false},
          "axis": {"orient": "bottom", "values": [1, 1.1, 1.2, 1.3, 1.4, 1.5], "format": ".1f", "ticks": false, "labelPadding": 8, "labelFlush": false, "labelOverlap": false, "title": "Energy (eV)", "titlePadding": 3}},
    "y": {"field": "v", "type": "quantitative", "scale": {"type": "log", "domain": [0.8, 2570], "nice": false},
          "axis": {"orient": "left", "labels": false, "ticks": false, "title": null}},
    "color": {"field": "s", "type": "nominal", "scale": {"domain": ["250","200","150","100","50","20","10","5"], "range": ["#000000","#ff0000","#0000ff","#008080","#ff00ff","#808000","#000080","#800000"]}}
   }},
  {"data": {"values": [{}]}, "mark": {"type": "point", "opacity": 0},
   "encoding": {
    "x": {"datum": 1.2, "type": "quantitative", "scale": {"domain": [0.95, 1.55], "nice": false, "zero": false}, "axis": {"orient": "bottom", "values": [1, 1.1, 1.2, 1.3, 1.4, 1.5], "labels": false, "domain": false, "tickSize": -6, "title": null}},
    "y": {"datum": 100, "type": "quantitative", "scale": {"type": "log", "domain": [0.8, 2570], "nice": false}, "axis": {"orient": "left", "values": [1, 10, 100, 1000], "labels": false, "domain": false, "tickSize": -8, "title": null}}}},
  {"data": {"values": [{}]}, "mark": {"type": "point", "opacity": 0},
   "encoding": {
    "x": {"datum": 1.2, "type": "quantitative", "scale": {"domain": [0.95, 1.55], "nice": false, "zero": false}, "axis": {"orient": "bottom", "values": [0.96,0.97,0.98,0.99,1,1.01,1.02,1.03,1.04,1.05,1.06,1.07,1.08,1.09,1.1,1.11,1.12,1.13,1.14,1.15,1.16,1.17,1.18,1.19,1.2,1.21,1.22,1.23,1.24,1.25,1.26,1.27,1.28,1.29,1.3,1.31,1.32,1.33,1.34,1.35,1.36,1.37,1.38,1.39,1.4,1.41,1.42,1.43,1.44,1.45,1.46,1.47,1.48,1.49,1.5,1.51,1.52,1.53,1.54], "labels": false, "domain": false, "tickSize": -3, "title": null}},
    "y": {"datum": 100, "type": "quantitative", "scale": {"type": "log", "domain": [0.8, 2570], "nice": false}, "axis": {"orient": "left", "values": [0.9,2,3,4,5,6,7,8,9,20,30,40,50,60,70,80,90,200,300,400,500,600,700,800,900,2000], "labels": false, "domain": false, "tickSize": -4, "title": null}}}},
  {"data": {"values": [{}]}, "mark": {"type": "point", "opacity": 0},
   "encoding": {
    "x": {"datum": 1.2, "type": "quantitative", "scale": {"domain": [0.95, 1.55], "nice": false, "zero": false}, "axis": {"orient": "top", "values": [1, 1.1, 1.2, 1.3, 1.4, 1.5], "labels": false, "tickSize": -6, "title": null}},
    "y": {"datum": 100, "type": "quantitative", "scale": {"type": "log", "domain": [0.8, 2570], "nice": false}, "axis": {"orient": "right", "values": [1, 10, 100, 1000], "labels": false, "tickSize": -8, "title": null}}}},
  {"data": {"values": [{}]}, "mark": {"type": "point", "opacity": 0},
   "encoding": {
    "x": {"datum": 1.2, "type": "quantitative", "scale": {"domain": [0.95, 1.55], "nice": false, "zero": false}, "axis": {"orient": "top", "values": [0.96,0.97,0.98,0.99,1,1.01,1.02,1.03,1.04,1.05,1.06,1.07,1.08,1.09,1.1,1.11,1.12,1.13,1.14,1.15,1.16,1.17,1.18,1.19,1.2,1.21,1.22,1.23,1.24,1.25,1.26,1.27,1.28,1.29,1.3,1.31,1.32,1.33,1.34,1.35,1.36,1.37,1.38,1.39,1.4,1.41,1.42,1.43,1.44,1.45,1.46,1.47,1.48,1.49,1.5,1.51,1.52,1.53,1.54], "labels": false, "domain": false, "tickSize": -3, "title": null}},
    "y": {"datum": 100, "type": "quantitative", "scale": {"type": "log", "domain": [0.8, 2570], "nice": false}, "axis": {"orient": "right", "values": [0.9,2,3,4,5,6,7,8,9,20,30,40,50,60,70,80,90,200,300,400,500,600,700,800,900,2000], "labels": false, "domain": false, "tickSize": -4, "title": null}}}},
  {"data": {"values": [{}]}, "mark": {"type": "text", "text": "(b)", "align": "left", "baseline": "middle", "fontSize": 19},
   "encoding": {"x": {"datum": 0.9636, "type": "quantitative", "scale": {"domain": [0.95, 1.55], "nice": false, "zero": false}, "axis": null},
                "y": {"datum": 1510, "type": "quantitative", "scale": {"type": "log", "domain": [0.8, 2570], "nice": false}, "axis": null}}},
  {"data": {"values": [{}]}, "mark": {"type": "text", "text": "3 Stacks", "align": "right", "baseline": "middle", "fontSize": 19},
   "encoding": {"x": {"datum": 1.541, "type": "quantitative", "scale": {"domain": [0.95, 1.55], "nice": false, "zero": false}, "axis": null},
                "y": {"datum": 1510, "type": "quantitative", "scale": {"type": "log", "domain": [0.8, 2570], "nice": false}, "axis": null}}}
 ]},
{"width": 358, "height": 333,
 "resolve": {"axis": {"x": "independent", "y": "independent"}},
 "layer": [
  {"data": {"name": "d"},
   "transform": [{"filter": "datum.p == 'c'"}, {"fold": ["250","200","150","100","50","20","10","5"], "as": ["s","v"]}, {"filter": "isValid(datum.v)"}],
   "mark": {"type": "line", "strokeWidth": 1.4, "clip": true},
   "encoding": {
    "x": {"field": "e", "type": "quantitative", "scale": {"domain": [0.947, 1.543], "nice": false, "zero": false},
          "axis": {"orient": "bottom", "values": [1, 1.1, 1.2, 1.3, 1.4, 1.5], "format": ".1f", "ticks": false, "labelPadding": 8, "labelFlush": false, "labelOverlap": false, "title": "Energy (eV)", "titlePadding": 3}},
    "y": {"field": "v", "type": "quantitative", "scale": {"type": "log", "domain": [0.8, 2570], "nice": false},
          "axis": {"orient": "left", "labels": false, "ticks": false, "title": null}},
    "color": {"field": "s", "type": "nominal", "scale": {"domain": ["250","200","150","100","50","20","10","5"], "range": ["#000000","#ff0000","#0000ff","#008080","#ff00ff","#808000","#000080","#800000"]},
              "legend": {"orient": "none", "legendX": 728, "legendY": 36, "title": null, "symbolType": "M-3.3,0H3.3", "symbolSize": 100, "symbolStrokeWidth": 2, "labelFontSize": 14.5, "labelExpr": "datum.label + 'mW'", "rowPadding": 6.4, "labelOffset": 13, "padding": 0}}
   }},
  {"data": {"values": [{}]}, "mark": {"type": "point", "opacity": 0},
   "encoding": {
    "x": {"datum": 1.2, "type": "quantitative", "scale": {"domain": [0.947, 1.543], "nice": false, "zero": false}, "axis": {"orient": "bottom", "values": [1, 1.1, 1.2, 1.3, 1.4, 1.5], "labels": false, "domain": false, "tickSize": -6, "title": null}},
    "y": {"datum": 100, "type": "quantitative", "scale": {"type": "log", "domain": [0.8, 2570], "nice": false}, "axis": {"orient": "left", "values": [1, 10, 100, 1000], "labels": false, "domain": false, "tickSize": -8, "title": null}}}},
  {"data": {"values": [{}]}, "mark": {"type": "point", "opacity": 0},
   "encoding": {
    "x": {"datum": 1.2, "type": "quantitative", "scale": {"domain": [0.947, 1.543], "nice": false, "zero": false}, "axis": {"orient": "bottom", "values": [0.95,0.96,0.97,0.98,0.99,1,1.01,1.02,1.03,1.04,1.05,1.06,1.07,1.08,1.09,1.1,1.11,1.12,1.13,1.14,1.15,1.16,1.17,1.18,1.19,1.2,1.21,1.22,1.23,1.24,1.25,1.26,1.27,1.28,1.29,1.3,1.31,1.32,1.33,1.34,1.35,1.36,1.37,1.38,1.39,1.4,1.41,1.42,1.43,1.44,1.45,1.46,1.47,1.48,1.49,1.5,1.51,1.52,1.53,1.54], "labels": false, "domain": false, "tickSize": -3, "title": null}},
    "y": {"datum": 100, "type": "quantitative", "scale": {"type": "log", "domain": [0.8, 2570], "nice": false}, "axis": {"orient": "left", "values": [0.9,2,3,4,5,6,7,8,9,20,30,40,50,60,70,80,90,200,300,400,500,600,700,800,900,2000], "labels": false, "domain": false, "tickSize": -4, "title": null}}}},
  {"data": {"values": [{}]}, "mark": {"type": "point", "opacity": 0},
   "encoding": {
    "x": {"datum": 1.2, "type": "quantitative", "scale": {"domain": [0.947, 1.543], "nice": false, "zero": false}, "axis": {"orient": "top", "values": [1, 1.1, 1.2, 1.3, 1.4, 1.5], "labels": false, "tickSize": -6, "title": null}},
    "y": {"datum": 100, "type": "quantitative", "scale": {"type": "log", "domain": [0.8, 2570], "nice": false}, "axis": {"orient": "right", "values": [1, 10, 100, 1000], "labels": false, "tickSize": -8, "title": null}}}},
  {"data": {"values": [{}]}, "mark": {"type": "point", "opacity": 0},
   "encoding": {
    "x": {"datum": 1.2, "type": "quantitative", "scale": {"domain": [0.947, 1.543], "nice": false, "zero": false}, "axis": {"orient": "top", "values": [0.95,0.96,0.97,0.98,0.99,1,1.01,1.02,1.03,1.04,1.05,1.06,1.07,1.08,1.09,1.1,1.11,1.12,1.13,1.14,1.15,1.16,1.17,1.18,1.19,1.2,1.21,1.22,1.23,1.24,1.25,1.26,1.27,1.28,1.29,1.3,1.31,1.32,1.33,1.34,1.35,1.36,1.37,1.38,1.39,1.4,1.41,1.42,1.43,1.44,1.45,1.46,1.47,1.48,1.49,1.5,1.51,1.52,1.53,1.54], "labels": false, "domain": false, "tickSize": -3, "title": null}},
    "y": {"datum": 100, "type": "quantitative", "scale": {"type": "log", "domain": [0.8, 2570], "nice": false}, "axis": {"orient": "right", "values": [0.9,2,3,4,5,6,7,8,9,20,30,40,50,60,70,80,90,200,300,400,500,600,700,800,900,2000], "labels": false, "domain": false, "tickSize": -4, "title": null}}}},
  {"data": {"values": [{}]}, "mark": {"type": "text", "text": "(c)", "align": "left", "baseline": "middle", "fontSize": 19},
   "encoding": {"x": {"datum": 0.9617, "type": "quantitative", "scale": {"domain": [0.947, 1.543], "nice": false, "zero": false}, "axis": null},
                "y": {"datum": 1550, "type": "quantitative", "scale": {"type": "log", "domain": [0.8, 2570], "nice": false}, "axis": null}}},
  {"data": {"values": [{}]}, "mark": {"type": "text", "text": "5 stacks", "align": "right", "baseline": "middle", "fontSize": 19},
   "encoding": {"x": {"datum": 1.5374, "type": "quantitative", "scale": {"domain": [0.947, 1.543], "nice": false, "zero": false}, "axis": null},
                "y": {"datum": 1585, "type": "quantitative", "scale": {"type": "log", "domain": [0.8, 2570], "nice": false}, "axis": null}}}
 ]}
]
}
